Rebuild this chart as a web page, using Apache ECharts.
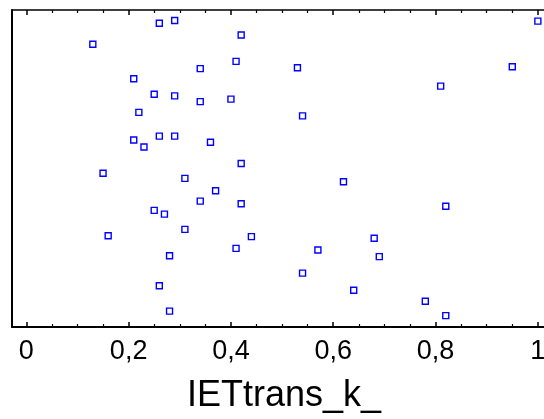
<!DOCTYPE html>
<html>
<head>
<meta charset="utf-8">
<script src="https://cdn.jsdelivr.net/npm/echarts@6/dist/echarts.min.js"></script>
<style>
html,body{margin:0;padding:0;background:#fff;}
#chart{width:544px;height:419px;}
</style>
</head>
<body>
<div id="chart"></div>
<script>
// IETtrans_k_ values (x) and vertical jitter position (y, 0..1)
var xValues = [0.26,0.29,0.42,0.13,0.41,0.34,0.21,0.25,0.29,0.34,0.40,0.22,0.21,0.26,0.29,0.36,0.23,0.42,1.00,0.53,0.95,0.81,0.54,0.15,0.31,0.37,0.34,0.42,0.25,0.27,0.31,0.16,0.44,0.41,0.28,0.26,0.28,0.62,0.82,0.68,0.57,0.69,0.54,0.64,0.78,0.82];
var yJitter = [0.958,0.967,0.921,0.892,0.838,0.815,0.783,0.734,0.729,0.711,0.719,0.677,0.590,0.602,0.602,0.583,0.568,0.516,0.965,0.818,0.821,0.760,0.666,0.485,0.469,0.430,0.397,0.389,0.368,0.356,0.308,0.288,0.285,0.248,0.225,0.130,0.050,0.458,0.381,0.280,0.243,0.222,0.170,0.116,0.081,0.036];
var majorTicks = [0,0.2,0.4,0.6,0.8,1];
var minorTicks = [0.05,0.1,0.15,0.25,0.3,0.35,0.45,0.5,0.55,0.65,0.7,0.75,0.85,0.9,0.95];
var axisTitle = 'IETtrans_k_';

var points = xValues.map(function(x,i){return [x, yJitter[i]];});
var xMin = -0.028, xMax = 1.012;
var font = '"Liberation Sans", Arial, sans-serif';

function xAx(pos, ticks, len, width, showLine, lineW, withLabels){
  var a = {
    type:'value', position:pos, min:xMin, max:xMax,
    axisLine:{show:showLine, onZero:false, lineStyle:{color:'#000', width:lineW}},
    axisTick:{show:true, inside:true, length:len, customValues:ticks, lineStyle:{color:'#000', width:width}},
    axisLabel:{show:false},
    splitLine:{show:false}
  };
  if(withLabels){
    a.axisLabel = {show:true, customValues:majorTicks, margin:11, color:'#000', fontSize:27, fontFamily:font,
      formatter:function(v){return String(v).replace('.', ',');}};
    a.name = axisTitle;
    a.nameLocation = 'middle';
    a.nameGap = 51;
    a.nameTextStyle = {color:'#000', fontSize:36, fontFamily:font, padding:[0,0,0,12]};
  }
  return a;
}

var chart = echarts.init(document.getElementById('chart'), null, {renderer:'canvas'});
chart.setOption({
  animation:false,
  backgroundColor:'#fff',
  grid:{left:12, right:0, top:10, bottom:92, containLabel:false, outerBoundsMode:'none'},
  xAxis:[
    xAx('bottom', majorTicks, 5, 1.5, true, 2, true),
    xAx('bottom', minorTicks, 3, 1.2, false, 2, false),
    xAx('top', majorTicks, 5, 1.5, true, 1.5, false),
    xAx('top', minorTicks, 3, 1.2, false, 1.5, false)
  ],
  yAxis:{type:'value', min:0, max:1, axisLine:{show:true, onZero:false, lineStyle:{color:'#000', width:2}},
    axisTick:{show:false}, axisLabel:{show:false}, splitLine:{show:false}},
  series:[{
    type:'scatter', xAxisIndex:0, data:points, symbol:'rect', symbolSize:6,
    itemStyle:{color:'rgba(255,255,255,0)', borderColor:'#0000ff', borderWidth:1.4, opacity:1},
    emphasis:{disabled:true}
  }]
});
</script>
</body>
</html>
